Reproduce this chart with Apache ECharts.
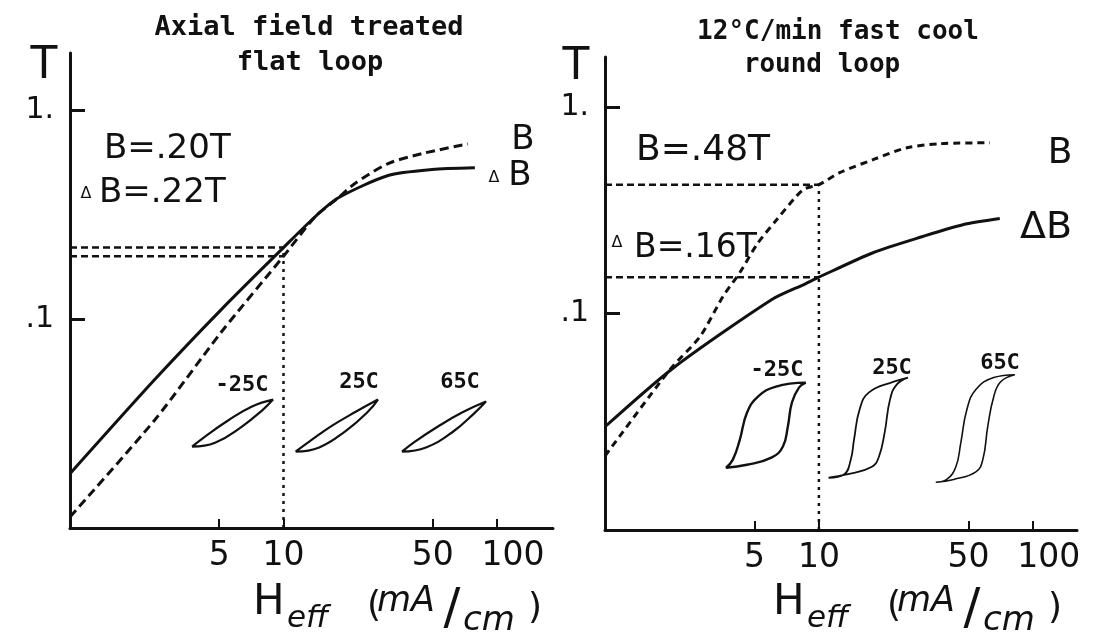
<!DOCTYPE html>
<html><head><meta charset="utf-8">
<script src="https://cdn.jsdelivr.net/npm/echarts@6/dist/echarts.min.js"></script>
<style>html,body{margin:0;padding:0;background:#fff}#c{width:1104px;height:643px}</style>
</head><body><div id="c"></div>
<script>
// ---- tick values ----
const xTicks = [5, 10, 50, 100];
const yTicks = [0.1, 1];

// ---- left panel: Axial field treated, flat loop ----
const leftB  = [[1,0.0113],[2.5,0.033],[5.15,0.0875],[10,0.20],[14.1,0.31],[18,0.38],[21.6,0.446],[30.9,0.556],[44.5,0.62],[73.1,0.69]];
const leftDB = [[1,0.0182],[2.5,0.0515],[5.15,0.112],[10,0.22],[14.1,0.31],[18,0.38],[30.9,0.487],[49.6,0.52],[78.8,0.53]];
const leftRefH = 10, leftRefB = 0.20, leftRefDB = 0.22;
const leftLoopM25 = [[3.73,0.0245],[4.29,0.0274],[5.50,0.0327],[7.12,0.0382],[8.93,0.0412],[8.02,0.0369],[6.39,0.0306],[4.78,0.0256],[3.73,0.0245]];
const leftLoop25  = [[11.4,0.0232],[13.2,0.0259],[16.9,0.0309],[21.9,0.0361],[27.7,0.0412],[24.9,0.0361],[19.6,0.0292],[14.7,0.0243],[11.4,0.0232]];
const leftLoop65  = [[35.9,0.0232],[41.3,0.0259],[52.9,0.0306],[68.6,0.0357],[88.8,0.0403],[78.9,0.0357],[62.2,0.0289],[46.5,0.0243],[35.9,0.0232]];

// ---- right panel: 12 C/min fast cool, round loop ----
const rightB  = [[1,0.0205],[2.01,0.0536],[2.78,0.0774],[3.56,0.121],[4.27,0.158],[5.13,0.216],[6.36,0.285],[8.42,0.397],[10,0.42],[12.5,0.48],[17.9,0.555],[25.8,0.634],[36.8,0.663],[63,0.67]];
const rightDB = [[1,0.0284],[2.08,0.0545],[6.03,0.117],[8.6,0.139],[10,0.15],[17.9,0.197],[30.6,0.236],[47.1,0.269],[70.1,0.288]];
const rightRefH = 10, rightRefB = 0.42, rightRefDB = 0.15;
const rightLoopM25 = [[8.69,0.0464],[6.30,0.0444],[5.19,0.0397],[4.61,0.0332],[4.27,0.0246],[3.96,0.0197],[3.68,0.0180],[4.61,0.0186],[6.03,0.0202],[6.79,0.0228],[7.16,0.0285],[7.48,0.0372],[8.07,0.0439],[8.69,0.0464]];
const rightLoop25  = [[26.1,0.0491],[22.4,0.0469],[17.1,0.0415],[15.5,0.0344],[14.6,0.0246],[14.1,0.0197],[13.1,0.0167],[11.1,0.0161],[13.5,0.0167],[17.7,0.0182],[19.1,0.0204],[20.3,0.0266],[21.5,0.0384],[23.1,0.0454],[26.1,0.0491]];
const rightLoop65  = [[82.4,0.0507],[65.7,0.0491],[54.2,0.0430],[49.2,0.0344],[46.1,0.0238],[43.7,0.0182],[39.6,0.0158],[35.2,0.0153],[42.7,0.0158],[54.2,0.0172],[58.4,0.0197],[61.6,0.0285],[65.7,0.0397],[70.8,0.0469],[82.4,0.0507]];

// axis extents
const leftX = [1, 183], leftY = [0.01, 1.88];
const rightX = [1, 161], rightY = [0.009, 1.74];

const INK = '#111';
const SANS = '"DejaVu Sans"';
const MONO = '"DejaVu Sans Mono"';

function xAxis(gi, ext) {
  return {
    type: 'log', logBase: 10, gridIndex: gi, min: ext[0], max: ext[1],
    splitLine: {show: false},
    axisLine: {lineStyle: {color: INK, width: 3}},
    axisTick: {customValues: xTicks, inside: true, length: 9, lineStyle: {color: INK, width: 2}},
    axisLabel: {
      customValues: xTicks, color: INK, fontFamily: SANS, fontSize: 33, margin: 12,
      formatter: v => { const r = Math.round(v); return r === 100 ? '{w|100}' : String(r); },
      rich: {w: {fontFamily: SANS, fontSize: 33, color: INK, padding: [0, 0, 0, 32]}}
    }
  };
}
function yAxis(gi, ext) {
  return {
    type: 'log', logBase: 10, gridIndex: gi, min: ext[0], max: ext[1],
    splitLine: {show: false},
    axisLine: {lineStyle: {color: INK, width: 3}},
    axisTick: {customValues: yTicks, inside: true, length: 15, lineStyle: {color: INK, width: 3}},
    axisLabel: {
      customValues: yTicks, color: INK, fontFamily: SANS, fontSize: 30, margin: 16,
      formatter: v => (Math.abs(v - 1) < 1e-6 ? '1.' : '.1')
    }
  };
}
function line(gi, data, opts) {
  return Object.assign({
    type: 'line', xAxisIndex: gi, yAxisIndex: gi, data: data, symbol: 'none',
    silent: true, animation: false, z: 3
  }, opts);
}
const solid = w => ({lineStyle: {color: INK, width: w, type: 'solid'}, smooth: 0.25});
const dashed = (w, d) => ({lineStyle: {color: INK, width: w, type: d}, smooth: 0.25});
const loopStyle = w => ({lineStyle: {color: INK, width: w}, smooth: 0.45});

const series = [
  // left
  line(0, leftDB, solid(3)),
  line(0, leftB, dashed(3, [9, 5])),
  line(0, [[leftX[0], leftRefDB], [leftRefH, leftRefDB]], {lineStyle: {color: INK, width: 2.5, type: [7, 4]}}),
  line(0, [[leftX[0], leftRefB], [leftRefH, leftRefB]], {lineStyle: {color: INK, width: 2.5, type: [7, 4]}}),
  line(0, [[leftRefH, leftY[0]], [leftRefH, leftRefDB]], {lineStyle: {color: INK, width: 2.5, type: [3, 5]}}),
  line(0, leftLoopM25, loopStyle(2.2)),
  line(0, leftLoop25, loopStyle(2.2)),
  line(0, leftLoop65, loopStyle(2.2)),
  // right
  line(1, rightDB, solid(3)),
  line(1, rightB, dashed(3, [7, 5])),
  line(1, [[rightX[0], rightRefB], [rightRefH, rightRefB]], {lineStyle: {color: INK, width: 2.5, type: [7, 4]}}),
  line(1, [[rightX[0], rightRefDB], [rightRefH, rightRefDB]], {lineStyle: {color: INK, width: 2.5, type: [7, 4]}}),
  line(1, [[rightRefH, rightY[0]], [rightRefH, rightRefB]], {lineStyle: {color: INK, width: 2.5, type: [3, 5]}}),
  line(1, rightLoopM25, loopStyle(2.4)),
  line(1, rightLoop25, loopStyle(1.8)),
  line(1, rightLoop65, loopStyle(1.6))
];

function txt(x, y, text, font, align) {
  return {type: 'text', x: x, y: y, silent: true, z: 10,
    style: {text: text, font: font, fill: INK, textAlign: align || 'center', textVerticalAlign: 'middle'}};
}
const f = (s, fam, extra) => (extra ? extra + ' ' : '') + s + 'px ' + (fam || SANS);

function hLabel(dx) {
  return [
    txt(253 + dx, 603, 'H', f(42), 'left'),
    txt(287 + dx, 619, 'eff', f(31, SANS, 'italic'), 'left'),
    txt(367 + dx, 607, '(', f(36), 'left'),
    txt(377 + dx, 602, 'mA', f(35, SANS, 'italic'), 'left'),
    txt(452 + dx, 610, '/', f(50), 'center'),
    txt(463 + dx, 621, 'cm', f(34, SANS, 'italic'), 'left'),
    txt(528 + dx, 609, ')', f(36), 'left')
  ];
}

const graphics = [
  // titles
  txt(309, 28, 'Axial field treated', f(27, MONO, 'bold')),
  txt(310, 63, 'flat loop', f(27, MONO, 'bold')),
  txt(838, 32, '12°C/min fast cool', f(26, MONO, 'bold')),
  txt(822, 65, 'round loop', f(26, MONO, 'bold')),
  // axis names
  txt(44, 67, 'T', f(44)),
  txt(576, 68, 'T', f(44)),
  // annotations left
  txt(104, 149, 'B=.20T', f(34), 'left'),
  txt(86, 194, 'Δ', f(16), 'center'),
  txt(99, 193, 'B=.22T', f(34), 'left'),
  txt(523, 140, 'B', f(34)),
  txt(494, 178, 'Δ', f(16)),
  txt(520, 176, 'B', f(34)),
  // annotations right
  txt(636, 151, 'B=.48T', f(36), 'left'),
  txt(617, 243, 'Δ', f(16)),
  txt(634, 248, 'B=.16T', f(33), 'left'),
  txt(1060, 154, 'B', f(36)),
  txt(1046, 228, 'ΔB', f(38)),
  // loop labels
  txt(242, 385, '-25C', f(22, MONO, 'bold')),
  txt(359, 382, '25C', f(22, MONO, 'bold')),
  txt(460, 382, '65C', f(22, MONO, 'bold')),
  txt(777, 370, '-25C', f(22, MONO, 'bold')),
  txt(892, 368, '25C', f(22, MONO, 'bold')),
  txt(1000, 363, '65C', f(22, MONO, 'bold'))
].concat(hLabel(0), hLabel(520));

const chart = echarts.init(document.getElementById('c'), null, {renderer: 'canvas'});
chart.setOption({
  backgroundColor: '#fff',
  animation: false,
  grid: [
    {left: 70, top: 53, width: 483, height: 475},
    {left: 605, top: 57, width: 472, height: 473}
  ],
  xAxis: [xAxis(0, leftX), xAxis(1, rightX)],
  yAxis: [yAxis(0, leftY), yAxis(1, rightY)],
  series: series,
  graphic: graphics
});
</script></body></html>
